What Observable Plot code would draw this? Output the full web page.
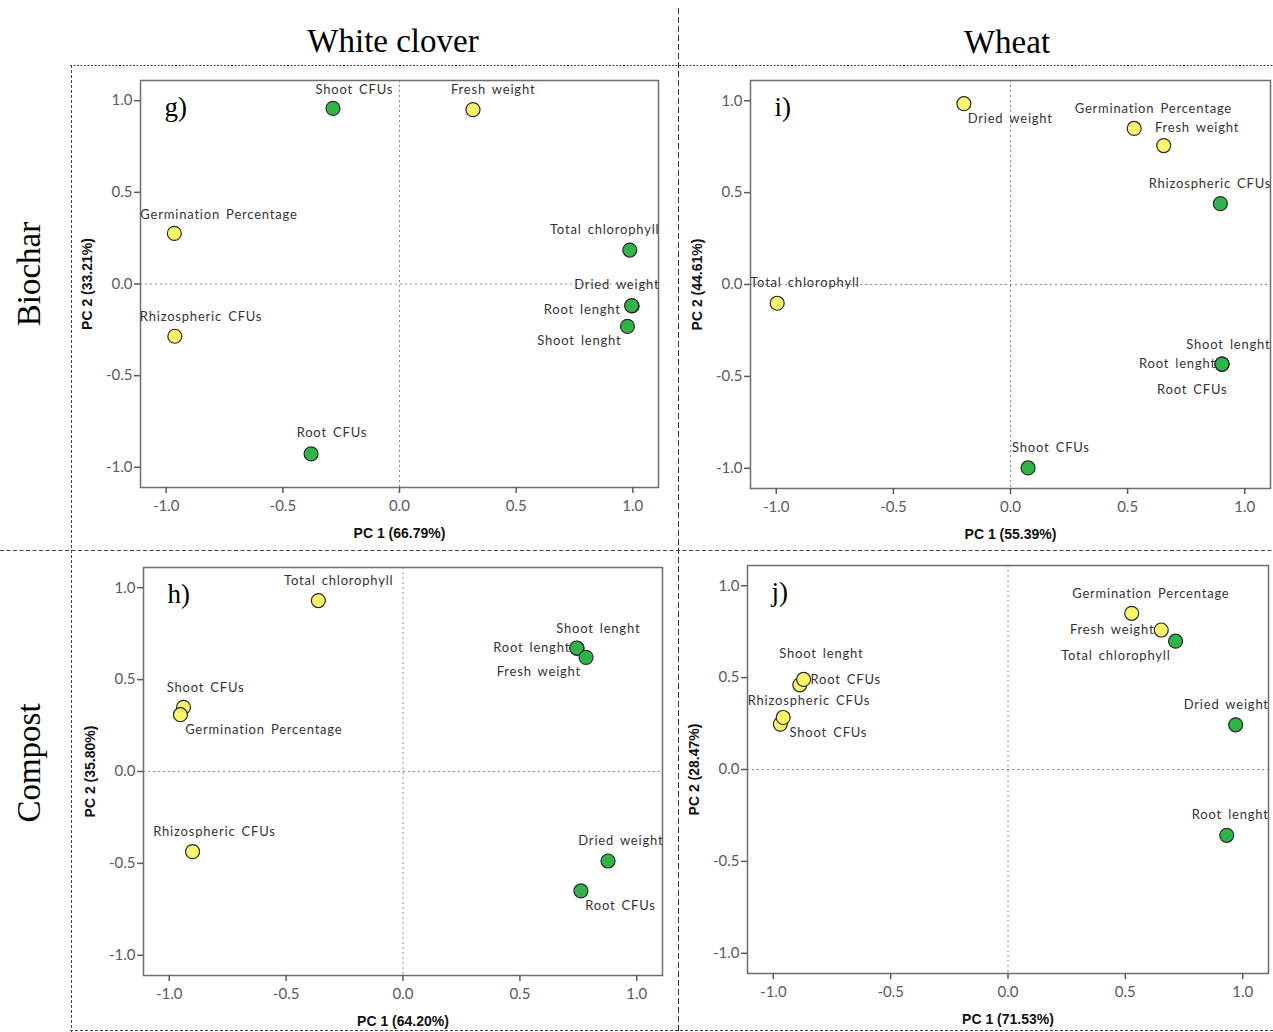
<!DOCTYPE html>
<html>
<head>
<meta charset="utf-8">
<script src="https://cdn.jsdelivr.net/npm/d3@7"></script>
<script src="https://cdn.jsdelivr.net/npm/@observablehq/plot@0.6"></script>
<style>
  html, body { margin: 0; padding: 0; background: #fff; }
  #root { position: relative; width: 1273px; height: 1032px; background: #fff; overflow: hidden; }
  .panel { position: absolute; }
  .panel svg { overflow: visible; max-width: none !important; }
  g[aria-description="point-label"] text { letter-spacing: 0.8px; word-spacing: 2px; }
  #overlay { position: absolute; left: 0; top: 0; pointer-events: none; }
</style>
</head>
<body>
<div id="root"></div>
<script>
// ---------- data ----------
const columnTitles = ["White clover", "Wheat"];
const rowTitles = ["Biochar", "Compost"];
const tickValues = [-1, -0.5, 0, 0.5, 1];
const clusterColor = { yellow: "#fbf56a", green: "#30b348" };

// Panel g) White clover – Biochar
const vars_g = ["Shoot CFUs", "Fresh weight", "Germination Percentage", "Total chlorophyll", "Dried weight", "Root lenght", "Shoot lenght", "Rhizospheric CFUs", "Root CFUs"];
const pc1_g = [-0.285, 0.315, -0.965, 0.987, 0.997, 0.995, 0.977, -0.963, -0.379];
const pc2_g = [0.958, 0.951, 0.276, 0.185, -0.120, -0.118, -0.231, -0.285, -0.927];
const cluster_g = ["green", "yellow", "yellow", "green", "green", "green", "green", "yellow", "green"];
const xLabel_g = "PC 1 (66.79%)";
const yLabel_g = "PC 2 (33.21%)";

// Panel i) Wheat – Biochar
const vars_i = ["Dried weight", "Germination Percentage", "Fresh weight", "Rhizospheric CFUs", "Total chlorophyll", "Shoot lenght", "Root lenght", "Root CFUs", "Shoot CFUs"];
const pc1_i = [-0.199, 0.528, 0.654, 0.896, -0.996, 0.903, 0.903, 0.903, 0.075];
const pc2_i = [0.984, 0.849, 0.756, 0.440, -0.102, -0.433, -0.433, -0.433, -0.998];
const cluster_i = ["yellow", "yellow", "yellow", "green", "yellow", "green", "green", "green", "green"];
const xLabel_i = "PC 1 (55.39%)";
const yLabel_i = "PC 2 (44.61%)";

// Panel h) White clover – Compost
const vars_h = ["Total chlorophyll", "Shoot lenght", "Root lenght", "Fresh weight", "Shoot CFUs", "Germination Percentage", "Rhizospheric CFUs", "Dried weight", "Root CFUs"];
const pc1_h = [-0.362, 0.745, 0.743, 0.783, -0.939, -0.952, -0.900, 0.877, 0.761];
const pc2_h = [0.930, 0.670, 0.672, 0.621, 0.349, 0.309, -0.436, -0.487, -0.650];
const cluster_h = ["yellow", "green", "green", "green", "yellow", "yellow", "yellow", "green", "green"];
const xLabel_h = "PC 1 (64.20%)";
const yLabel_h = "PC 2 (35.80%)";

// Panel j) Wheat – Compost
const vars_j = ["Germination Percentage", "Fresh weight", "Total chlorophyll", "Dried weight", "Root lenght", "Shoot lenght", "Root CFUs", "Shoot CFUs", "Rhizospheric CFUs"];
const pc1_j = [0.527, 0.653, 0.714, 0.970, 0.932, -0.887, -0.871, -0.970, -0.958];
const pc2_j = [0.850, 0.759, 0.698, 0.243, -0.358, 0.461, 0.490, 0.247, 0.283];
const cluster_j = ["yellow", "yellow", "green", "green", "green", "yellow", "yellow", "yellow", "yellow"];
const xLabel_j = "PC 1 (71.53%)";
const yLabel_j = "PC 2 (28.47%)";

// ---------- layout (label placement: anchor, dx, dy in px) ----------
const labelLayout_g = [["start",-17.5,-19],["start",-22,-19.7],["start",-34,-19],["end",29.6,-20],["end",27.3,-20.7],["end",-11,4],["end",-6,14.3],["start",-35,-19.3],["start",-14.4,-20.7]];
const labelLayout_i = [["start",3.8,15],["start",-59.5,-20],["start",-8.8,-18],["end",50.8,-20],["start",-27,-20],["end",48.5,-19.3],["end",-6.1,-0.7],["start",-65,25.7],["start",-16,-19.7]];
const labelLayout_h = [["start",-34.3,-20],["start",-21,-19.7],["end",-6.6,0],["end",-5,14],["start",-16.8,-19.7],["start",4.7,15.3],["start",-39.4,-20],["end",55.4,-20],["start",4.3,15.3]];
const labelLayout_j = [["start",-59.5,-19.7],["end",-6.9,0],["end",-5,14.3],["end",33.2,-20],["end",42,-20.3],["start",-20.6,-30.7],["start",6.9,0],["start",9.2,8.7],["start",-35.5,-16.3]];

const ML = 70, MR = 10, MT = 15, MB = 60;
const panels = [
  {letter: "g)", vars: vars_g, pc1: pc1_g, pc2: pc2_g, cluster: cluster_g, xLabel: xLabel_g, yLabel: yLabel_g, layout: labelLayout_g, frame: {left: 139.5, top: 80, w: 518, h: 407}},
  {letter: "i)", vars: vars_i, pc1: pc1_i, pc2: pc2_i, cluster: cluster_i, xLabel: xLabel_i, yLabel: yLabel_i, layout: labelLayout_i, frame: {left: 750.4, top: 80, w: 520, h: 408}},
  {letter: "h)", vars: vars_h, pc1: pc1_h, pc2: pc2_h, cluster: cluster_h, xLabel: xLabel_h, yLabel: yLabel_h, layout: labelLayout_h, frame: {left: 143.3, top: 567.3, w: 519, h: 408}},
  {letter: "j)", vars: vars_j, pc1: pc1_j, pc2: pc2_j, cluster: cluster_j, xLabel: xLabel_j, yLabel: yLabel_j, layout: labelLayout_j, frame: {left: 746.7, top: 564.7, w: 521, h: 408}}
];

const root = document.getElementById("root");
const fmt = d => d.toFixed(1);

for (const p of panels) {
  const data = p.vars.map((name, i) => ({name, pc1: p.pc1[i], pc2: p.pc2[i], cluster: p.cluster[i]}));
  const labelMarks = data.map((d, i) => {
    const [anchor, dx, dy] = p.layout[i];
    return Plot.text([d], {x: "pc1", y: "pc2", text: "name", textAnchor: anchor, dx, dy, lineAnchor: "middle",
      fontSize: 13, fill: "#333", fontFamily: "Lato, sans-serif", ariaDescription: "point-label"});
  });
  const W = p.frame.w + ML + MR, H = p.frame.h + MT + MB;
  const chart = Plot.plot({
    width: W,
    height: H,
    marginLeft: ML, marginRight: MR, marginTop: MT, marginBottom: MB,
    style: {fontFamily: "Lato, sans-serif", fontSize: "15px", background: "transparent", overflow: "visible", maxWidth: "none"},
    x: {domain: [-1.11, 1.11]},
    y: {domain: [-1.11, 1.11]},
    marks: [
      Plot.ruleX([0], {stroke: "#8a8a8a", strokeDasharray: "2,3", strokeWidth: 1}),
      Plot.ruleY([0], {stroke: "#8a8a8a", strokeDasharray: "2,3", strokeWidth: 1}),
      Plot.frame({stroke: "#6e6e6e", strokeWidth: 1.5}),
      Plot.axisX(tickValues, {tickSize: 6, tickPadding: 7, tickFormat: fmt, fontSize: 15, color: "#5a5a5a", strokeWidth: 1.5, label: null}),
      Plot.axisY(tickValues, {tickSize: 6, tickPadding: 2, tickFormat: fmt, fontSize: 15, color: "#5a5a5a", strokeWidth: 1.5, label: null}),
      Plot.dot(data, {x: "pc1", y: "pc2", r: 7, fill: d => clusterColor[d.cluster], stroke: "#2a2a2a", strokeWidth: 1.2}),
      ...labelMarks,
      Plot.text([p.letter], {frameAnchor: "top-left", dx: 24, dy: 35, lineAnchor: "bottom", textAnchor: "start",
        fontFamily: "'Liberation Serif', serif", fontSize: 27, fill: "#000"}),
      Plot.text([p.xLabel], {frameAnchor: "bottom", dy: 46, lineAnchor: "middle", textAnchor: "middle",
        fontFamily: "'Liberation Sans', Arial, sans-serif", fontWeight: "bold", fontSize: 14, fill: "#111"}),
      Plot.text([p.yLabel], {frameAnchor: "left", dx: -53, rotate: -90, lineAnchor: "middle", textAnchor: "middle",
        fontFamily: "'Liberation Sans', Arial, sans-serif", fontWeight: "bold", fontSize: 14, fill: "#111"})
    ]
  });
  const div = document.createElement("div");
  div.className = "panel";
  div.style.left = (p.frame.left - ML) + "px";
  div.style.top = (p.frame.top - MT) + "px";
  div.style.width = W + "px";
  div.style.height = H + "px";
  div.appendChild(chart);
  root.appendChild(div);
}

// ---------- overlay: separators and titles ----------
const ns = "http://www.w3.org/2000/svg";
const ov = document.createElementNS(ns, "svg");
ov.setAttribute("id", "overlay");
ov.setAttribute("width", 1273);
ov.setAttribute("height", 1032);
function line(x1, y1, x2, y2, dash, color) {
  const l = document.createElementNS(ns, "line");
  l.setAttribute("x1", x1); l.setAttribute("y1", y1); l.setAttribute("x2", x2); l.setAttribute("y2", y2);
  l.setAttribute("stroke", color || "#333"); l.setAttribute("stroke-width", 1);
  l.setAttribute("stroke-dasharray", dash);
  ov.appendChild(l);
}
line(70, 65.5, 1273, 65.5, "2,1.5", "#444");
line(71.5, 65, 71.5, 1032, "3,2", "#444");
line(0, 550.5, 1273, 550.5, "4,2.5", "#444");
line(70, 1030.5, 1273, 1030.5, "3,2", "#444");
line(678.5, 8, 678.5, 1032, "6,3", "#333");
function title(txt, x, y, rot) {
  const t = document.createElementNS(ns, "text");
  t.textContent = txt;
  t.setAttribute("text-anchor", "middle");
  t.setAttribute("font-family", "'Liberation Serif', 'Times New Roman', serif");
  t.setAttribute("font-size", 33);
  t.setAttribute("fill", "#000");
  if (rot) t.setAttribute("transform", `translate(${x},${y}) rotate(-90)`);
  else { t.setAttribute("x", x); t.setAttribute("y", y); }
  ov.appendChild(t);
}
title(columnTitles[0], 393, 52, false);
title(columnTitles[1], 1007, 53, false);
title(rowTitles[0], 40, 274, true);
title(rowTitles[1], 40, 763, true);
root.appendChild(ov);
</script>
</body>
</html>
